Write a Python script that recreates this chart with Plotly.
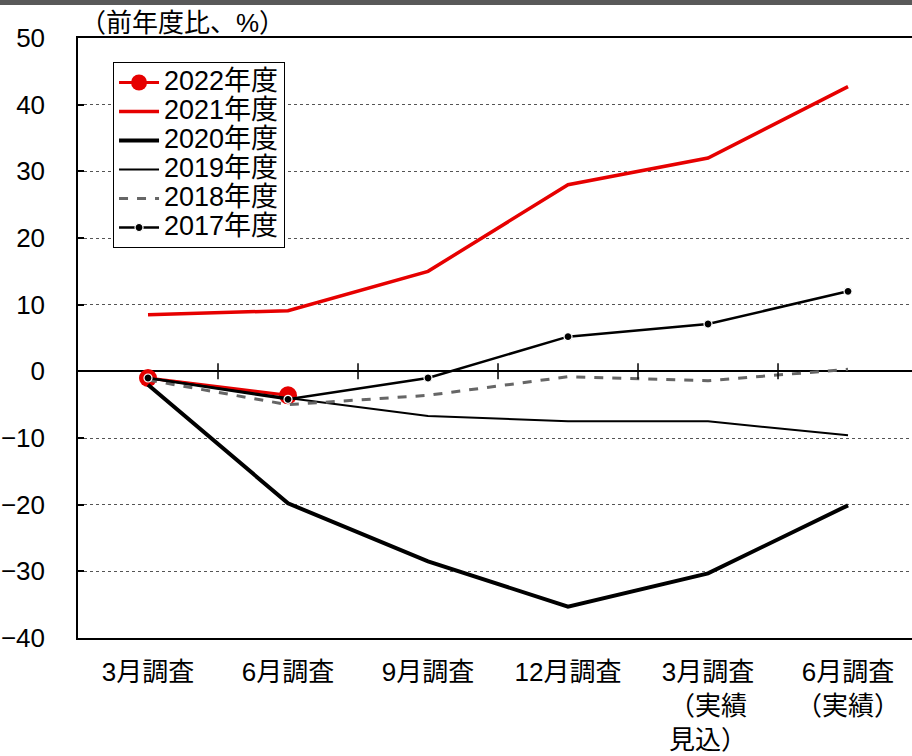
import plotly.graph_objects as go

categories = ["3月調査", "6月調査", "9月調査", "12月調査",
              "3月調査<br>（実績<br>見込）", "6月調査<br>（実績）"]
series_names = ["2022年度", "2021年度", "2020年度", "2019年度", "2018年度", "2017年度"]

y2022 = [-1.0, -3.6, None, None, None, None]
y2021 = [8.5, 9.1, 15.0, 28.0, 32.0, 42.7]
y2020 = [-2.0, -19.8, -28.5, -35.3, -30.3, -20.1]
y2019 = [-1.0, -4.0, -6.7, -7.5, -7.5, -9.6]
y2018 = [-1.3, -5.0, -3.6, -0.8, -1.4, 0.3]
y2017 = [-1.0, -4.2, -1.0, 5.2, 7.1, 12.0]

FONT = "Liberation Sans, Arial, Noto Sans CJK JP, sans-serif"
xs = list(range(len(categories)))


def lg(name):
    return '<span style="font-size:27px">' + name + '</span>'


fig = go.Figure()
fig.add_trace(go.Scatter(x=xs, y=y2022, name=lg(series_names[0]), mode="lines+markers",
                         line=dict(color="#e60000", width=3),
                         marker=dict(color="#e60000", size=18)))
fig.add_trace(go.Scatter(x=xs, y=y2021, name=lg(series_names[1]), mode="lines",
                         line=dict(color="#e60000", width=3.5)))
fig.add_trace(go.Scatter(x=xs, y=y2020, name=lg(series_names[2]), mode="lines",
                         line=dict(color="black", width=4)))
fig.add_trace(go.Scatter(x=xs, y=y2019, name=lg(series_names[3]), mode="lines",
                         line=dict(color="black", width=2)))
fig.add_trace(go.Scatter(x=xs, y=y2018, name=lg(series_names[4]), mode="lines",
                         line=dict(color="#666666", width=3, dash="dash")))
fig.add_trace(go.Scatter(x=xs, y=y2017, name=lg(series_names[5]), mode="lines+markers",
                         line=dict(color="black", width=2.5),
                         marker=dict(color="black", size=8, line=dict(color="white", width=1.2))))

# small ticks on zero line at category boundaries
shapes = []
for i in range(len(categories) - 1):
    shapes.append(dict(type="line", xref="x", yref="y", x0=i + 0.5, x1=i + 0.5,
                       ysizemode="pixel", yanchor=0, y0=-8, y1=8,
                       line=dict(color="black", width=1.5)))
# top dark band
shapes.append(dict(type="rect", xref="paper", yref="paper", x0=-1, x1=2,
                   y0=1 + 33 / 600, y1=1 + 40 / 600, fillcolor="#595959",
                   line=dict(width=0), layer="above"))

annotations = [dict(text="（前年度比、%）", xref="paper", yref="paper", x=0.0, y=1.0,
                    xanchor="left", yanchor="bottom", yshift=-2, showarrow=False,
                    font=dict(size=26, color="black", family=FONT))]

fig.update_layout(
    width=912, height=756,
    margin=dict(l=78, r=0, t=38, b=118),
    paper_bgcolor="white", plot_bgcolor="white",
    font=dict(family=FONT, size=26, color="black"),
    showlegend=True,
    legend=dict(x=0.042, y=0.96, xanchor="left", yanchor="top",
                bgcolor="white", bordercolor="black", borderwidth=1,
                font=dict(size=20, family=FONT), tracegroupgap=0,
                itemwidth=40),
    xaxis=dict(range=[-0.5, 5.457], tickmode="array", tickvals=xs, ticktext=categories,
               showline=True, linecolor="black", linewidth=1.5, mirror=True,
               showgrid=False, zeroline=False, ticks="", ticklabelstandoff=10,
               automargin=False,
               tickfont=dict(size=26, family=FONT)),
    yaxis=dict(range=[-40, 50], tickmode="array", tickvals=list(range(-40, 51, 10)),
               showline=True, linecolor="black", linewidth=1.5,
               ticks="inside", ticklen=6, tickcolor="black", tickwidth=1.5,
               showgrid=True, gridcolor="#555555", gridwidth=1, griddash="dot",
               zeroline=True, zerolinecolor="black", zerolinewidth=1.5,
               ticklabelstandoff=26, automargin=False,
               tickfont=dict(size=26, family=FONT)),
    shapes=shapes,
    annotations=annotations,
)

fig.write_html("out.html")
